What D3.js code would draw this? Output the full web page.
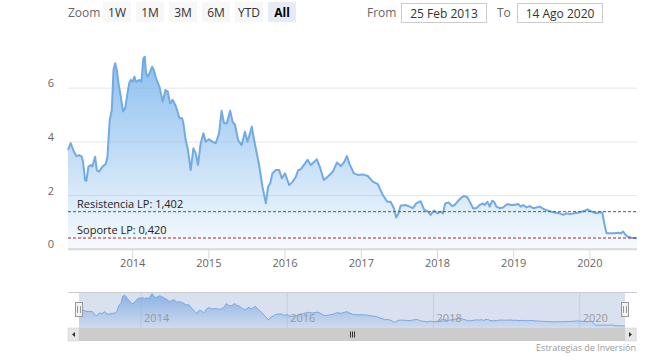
<!DOCTYPE html>
<html>
<head>
<meta charset="utf-8">
<script src="https://cdn.jsdelivr.net/npm/d3@7"></script>
<style>
  body { margin: 0; background: #fff; }
  svg { display: block; font-family: "Open Sans", sans-serif; }
</style>
</head>
<body>
<div id="chart"></div>
<script>
// price history
const dates = [
  "2013-02-25","2013-03-10","2013-03-26","2013-04-06","2013-04-19","2013-05-02","2013-05-08","2013-05-18","2013-05-24","2013-06-03",
  "2013-06-14","2013-06-22","2013-07-05","2013-07-13","2013-07-24","2013-08-09","2013-08-25","2013-09-02","2013-09-13","2013-09-23",
  "2013-10-01","2013-10-09","2013-10-17","2013-10-25","2013-11-05","2013-11-16","2013-11-26","2013-12-07","2013-12-15","2013-12-23",
  "2014-01-01","2014-01-09","2014-01-17","2014-02-02","2014-02-12","2014-02-21","2014-02-28","2014-03-06","2014-03-15","2014-03-25",
  "2014-04-04","2014-04-12","2014-04-23","2014-05-09","2014-05-25","2014-06-07","2014-06-18","2014-06-29","2014-07-12","2014-07-28",
  "2014-08-13","2014-08-26","2014-09-01","2014-09-12","2014-09-23","2014-10-06","2014-10-19","2014-10-30","2014-11-10","2014-11-23",
  "2014-12-06","2014-12-17",
  "2015-01-02","2015-01-18","2015-02-03","2015-02-19","2015-03-03","2015-03-15","2015-03-28","2015-04-13","2015-04-25","2015-05-07",
  "2015-05-21","2015-06-07","2015-06-23","2015-07-05","2015-07-15","2015-07-26","2015-08-03","2015-08-14","2015-08-30","2015-09-15",
  "2015-10-01","2015-10-12","2015-10-22","2015-11-02","2015-11-18","2015-12-04","2015-12-17",
  "2016-01-01","2016-01-21","2016-02-07","2016-02-22","2016-03-04","2016-03-17","2016-04-18","2016-05-04","2016-05-20","2016-06-02",
  "2016-06-18","2016-07-05","2016-07-24","2016-08-17","2016-09-06","2016-09-25","2016-10-11","2016-10-24","2016-11-04","2016-11-26",
  "2016-12-15",
  "2017-01-08","2017-02-01","2017-02-25","2017-03-21","2017-04-14","2017-05-05","2017-05-21","2017-06-06","2017-06-17","2017-06-28",
  "2017-07-08","2017-07-31","2017-08-20","2017-09-05","2017-09-21","2017-10-12","2017-10-28","2017-11-16","2017-11-29","2017-12-15",
  "2018-01-01","2018-01-16","2018-01-27","2018-02-07","2018-02-23","2018-03-12","2018-03-24","2018-04-06","2018-04-22","2018-05-08",
  "2018-05-24","2018-06-09","2018-06-20","2018-07-06","2018-07-22","2018-08-07","2018-08-15","2018-08-28","2018-09-08","2018-09-20",
  "2018-09-29","2018-10-10","2018-10-26","2018-11-11","2018-12-02","2018-12-18",
  "2019-01-03","2019-01-22","2019-02-04","2019-02-15","2019-03-03","2019-03-19","2019-04-04","2019-04-20","2019-05-06","2019-05-27",
  "2019-06-15","2019-07-01","2019-07-20","2019-08-10","2019-08-26","2019-09-11","2019-09-27","2019-10-18","2019-11-06","2019-11-22",
  "2019-12-08","2019-12-21",
  "2020-01-01","2020-01-17","2020-02-02","2020-02-18","2020-03-01","2020-03-10","2020-03-21","2020-04-06","2020-04-27","2020-05-13",
  "2020-05-29","2020-06-09","2020-06-20","2020-07-03","2020-07-19","2020-08-14"
];
const prices = [
  3.70,3.95,3.63,3.47,3.51,3.45,3.26,2.58,2.55,3.08,
  3.14,3.08,3.45,2.95,2.89,3.08,3.18,3.45,4.82,5.19,
  6.68,6.93,6.68,6.18,5.68,5.13,5.25,5.81,6.18,6.31,
  6.24,6.43,6.24,6.31,6.24,7.11,7.17,6.55,6.43,6.61,
  6.80,6.68,6.37,6.06,5.50,5.93,5.87,5.44,5.56,5.31,
  4.88,4.88,4.69,4.07,3.70,2.95,3.76,3.58,3.14,3.95,
  4.32,4.01,
  4.10,4.01,3.95,4.32,5.16,4.69,4.69,5.16,4.75,4.63,
  4.07,3.88,4.38,4.01,4.26,4.57,4.19,3.76,3.14,2.33,
  1.71,2.33,2.46,2.83,2.95,2.95,2.64,
  2.83,2.39,2.52,2.70,2.95,2.98,3.33,3.14,3.26,3.35,
  3.02,2.58,2.70,2.89,3.23,3.10,3.26,3.47,3.20,2.83,
  2.77,
  2.79,2.73,2.52,2.43,2.02,1.77,1.77,1.53,1.18,1.34,
  1.62,1.65,1.59,1.53,1.71,1.79,1.49,1.40,1.28,1.44,
  1.34,1.40,1.34,1.71,1.74,1.61,1.65,1.77,1.90,1.99,
  1.94,1.71,1.53,1.53,1.65,1.71,1.65,1.77,1.59,1.81,
  1.77,1.59,1.53,1.56,1.69,1.65,
  1.65,1.69,1.59,1.65,1.56,1.61,1.53,1.56,1.59,1.49,
  1.44,1.40,1.36,1.34,1.28,1.34,1.31,1.34,1.36,1.40,
  1.44,1.49,
  1.44,1.38,1.34,1.38,1.36,0.97,0.60,0.60,0.60,0.62,
  0.60,0.66,0.53,0.47,0.43,0.42
];

const yTicks = [0, 2, 4, 6];
const yearTicks = [2014, 2015, 2016, 2017, 2018, 2019, 2020];
const navYears = [2014, 2016, 2018, 2020];
const zoomButtons = ["1W", "1M", "3M", "6M", "YTD", "All"];
const rangeFrom = "25 Feb 2013";
const rangeTo = "14 Ago 2020";
const levelNames = ["Resistencia LP", "Soporte LP"];
const levelValues = [1.402, 0.420];
const creditText = "Estrategias de Inversión";

const W = 661, H = 362;
const parse = d3.timeParse("%Y-%m-%d");
const data = dates.map((d, i) => ({ date: parse(d), value: prices[i] }));

const svg = d3.select("#chart").append("svg")
    .attr("width", W).attr("height", H);

const defs = svg.append("defs");
const grad = defs.append("linearGradient")
    .attr("id", "areaGrad")
    .attr("gradientUnits", "userSpaceOnUse")
    .attr("x1", 0).attr("y1", 50).attr("x2", 0).attr("y2", 249);
grad.append("stop").attr("offset", "0%").attr("stop-color", "#7cb5ec").attr("stop-opacity", 0.9);
grad.append("stop").attr("offset", "100%").attr("stop-color", "#7cb5ec").attr("stop-opacity", 0.06);

const navGrad = defs.append("linearGradient")
    .attr("id", "navGrad")
    .attr("x1", 0).attr("y1", 0).attr("x2", 0).attr("y2", 1);
navGrad.append("stop").attr("offset", "0%").attr("stop-color", "#7cb5ec").attr("stop-opacity", 0.8);
navGrad.append("stop").attr("offset", "100%").attr("stop-color", "#7cb5ec").attr("stop-opacity", 0.1);

// ---- main chart scales
const timeDomain = [parse("2013-02-25"), parse("2020-08-14")];
const x = d3.scaleTime().domain(timeDomain).range([68, 637]);
const y = d3.scaleLinear().domain([0, 8]).range([249.3, 34.5]);

// grid
svg.append("g").selectAll("line")
    .data(yTicks.filter(d => d > 0))
    .enter().append("line")
    .attr("x1", 68).attr("x2", 637)
    .attr("y1", d => y(d)).attr("y2", d => y(d))
    .attr("stroke", "#e6e6e6").attr("stroke-width", 1);

svg.append("g").selectAll("text")
    .data(yTicks)
    .enter().append("text")
    .attr("x", 54).attr("y", d => y(d) - 1)
    .attr("text-anchor", "end")
    .style("font-size", "11px").style("fill", "#666")
    .text(d => d);

// area + line
const area = d3.area()
    .x(d => x(d.date)).y0(y(0)).y1(d => y(d.value));
const line = d3.line()
    .x(d => x(d.date)).y(d => y(d.value));

svg.append("path").datum(data)
    .attr("d", area).attr("fill", "url(#areaGrad)");
svg.append("path").datum(data)
    .attr("d", line).attr("fill", "none")
    .attr("stroke", "#72aae3").attr("stroke-width", 2)
    .attr("stroke-linejoin", "round");

// support / resistance lines
const levelColors = ["#2d7a35", "#9e2a2b"];
const fmt = v => d3.format(".3f")(v).replace(".", ",");
levelValues.forEach((v, i) => {
    svg.append("line")
        .attr("x1", 68).attr("x2", 637)
        .attr("y1", y(v)).attr("y2", y(v))
        .attr("stroke", levelColors[i]).attr("stroke-width", 1)
        .attr("stroke-dasharray", "3,2");
    svg.append("text")
        .attr("x", 77).attr("y", y(v) - 4)
        .style("font-size", "11px").style("fill", "#222")
        .text(`${levelNames[i]}: ${fmt(v)}`);
});

// x axis
svg.append("line")
    .attr("x1", 68).attr("x2", 637).attr("y1", y(0)).attr("y2", y(0))
    .attr("stroke", "#d9d9d9").attr("stroke-width", 2);

const xt = svg.append("g").selectAll("g")
    .data(yearTicks)
    .enter().append("g")
    .attr("transform", d => `translate(${x(new Date(d, 0, 1))},0)`);
xt.append("line")
    .attr("y1", y(0)).attr("y2", y(0) + 10)
    .attr("stroke", "#d9d9d9").attr("stroke-width", 1);
xt.append("text")
    .attr("y", 267).attr("text-anchor", "middle")
    .style("font-size", "11px").style("fill", "#666")
    .text(d => d);

// ---- range selector
svg.append("text")
    .attr("x", 68).attr("y", 17)
    .style("font-size", "12px").style("fill", "#666")
    .text("Zoom");

const btn = svg.append("g").selectAll("g")
    .data(zoomButtons)
    .enter().append("g")
    .attr("transform", (d, i) => `translate(${103 + i * 33},2)`);
btn.append("rect")
    .attr("width", 28).attr("height", 20)
    .attr("fill", d => d === "All" ? "#e6ebf5" : "#f7f7f7");
btn.append("text")
    .attr("x", 14).attr("y", 14.5).attr("text-anchor", "middle")
    .style("font-size", "12px")
    .style("font-weight", d => d === "All" ? "bold" : "normal")
    .style("fill", d => d === "All" ? "#000" : "#333")
    .text(d => d);

svg.append("text")
    .attr("x", 367).attr("y", 17)
    .style("font-size", "12px").style("fill", "#666")
    .text("From");
svg.append("text")
    .attr("x", 497).attr("y", 17)
    .style("font-size", "12px").style("fill", "#666")
    .text("To");
[[401, rangeFrom], [517, rangeTo]].forEach(([bx, t]) => {
    svg.append("rect")
        .attr("x", bx + 0.5).attr("y", 3.5).attr("width", 85).attr("height", 19)
        .attr("fill", "#fff").attr("stroke", "#cccccc");
    svg.append("text")
        .attr("x", bx + 43).attr("y", 17.5).attr("text-anchor", "middle")
        .style("font-size", "12px").style("fill", "#333")
        .text(t);
});

// ---- navigator
const nx = d3.scaleTime().domain(timeDomain).range([79, 625]);
const ny = d3.scaleLinear().domain(d3.extent(prices)).range([326, 294]);
const navTop = 292, navBottom = 328;

svg.append("g").selectAll("line")
    .data(navYears)
    .enter().append("line")
    .attr("x1", d => nx(new Date(d, 0, 1))).attr("x2", d => nx(new Date(d, 0, 1)))
    .attr("y1", navTop).attr("y2", navBottom)
    .attr("stroke", "#e6e6e6");

const navArea = d3.area()
    .x(d => nx(d.date)).y0(navBottom).y1(d => ny(d.value));
svg.append("path").datum(data)
    .attr("d", navArea).attr("fill", "url(#navGrad)");
svg.append("path").datum(data)
    .attr("d", d3.line().x(d => nx(d.date)).y(d => ny(d.value)))
    .attr("fill", "none").attr("stroke", "#7cb5ec").attr("stroke-width", 1);

// mask over the selected range (everything)
svg.append("rect")
    .attr("x", 79).attr("y", navTop).attr("width", 546).attr("height", navBottom - navTop)
    .attr("fill", "rgba(102,133,194,0.25)");

svg.append("g").selectAll("text")
    .data(navYears)
    .enter().append("text")
    .attr("x", d => nx(new Date(d, 0, 1)) + 3).attr("y", 322)
    .style("font-size", "11px").style("fill", "#999")
    .text(d => d);

svg.append("line")
    .attr("x1", 68).attr("x2", 637).attr("y1", navTop + 0.5).attr("y2", navTop + 0.5)
    .attr("stroke", "#cccccc");

// handles
[79, 625].forEach(hx => {
    const g = svg.append("g").attr("transform", `translate(${hx},0)`);
    g.append("rect")
        .attr("x", -3.5).attr("y", 302.5).attr("width", 7).attr("height", 14)
        .attr("fill", "#f2f2f2").attr("stroke", "#999");
    g.append("line").attr("x1", -1.5).attr("x2", -1.5).attr("y1", 306).attr("y2", 313).attr("stroke", "#999");
    g.append("line").attr("x1", 1.5).attr("x2", 1.5).attr("y1", 306).attr("y2", 313).attr("stroke", "#999");
});

// scrollbar
svg.append("rect")
    .attr("x", 68).attr("y", 328).attr("width", 569).attr("height", 13)
    .attr("fill", "#f2f2f2");
svg.append("rect")
    .attr("x", 79).attr("y", 328).attr("width", 546).attr("height", 13)
    .attr("fill", "#cccccc");
[[68, -1], [625, 1]].forEach(([bx, dir]) => {
    svg.append("rect")
        .attr("x", bx).attr("y", 328).attr("width", 11).attr("height", 13)
        .attr("fill", "#e6e6e6").attr("stroke", "#cccccc").attr("stroke-width", 0.5);
    const cx = bx + 5.5, cy = 334.5;
    svg.append("path")
        .attr("d", `M${cx + dir * 1.5},${cy} L${cx - dir * 1.5},${cy - 2.5} L${cx - dir * 1.5},${cy + 2.5} Z`)
        .attr("fill", "#333");
});
[-2, 0, 2].forEach(o => {
    svg.append("line")
        .attr("x1", 352 + o + 0.5).attr("x2", 352 + o + 0.5)
        .attr("y1", 331.5).attr("y2", 337.5)
        .attr("stroke", "#333");
});

svg.append("text")
    .attr("x", 636).attr("y", 351).attr("text-anchor", "end")
    .style("font-size", "9px").style("fill", "#999")
    .text(creditText);
</script>
</body>
</html>
